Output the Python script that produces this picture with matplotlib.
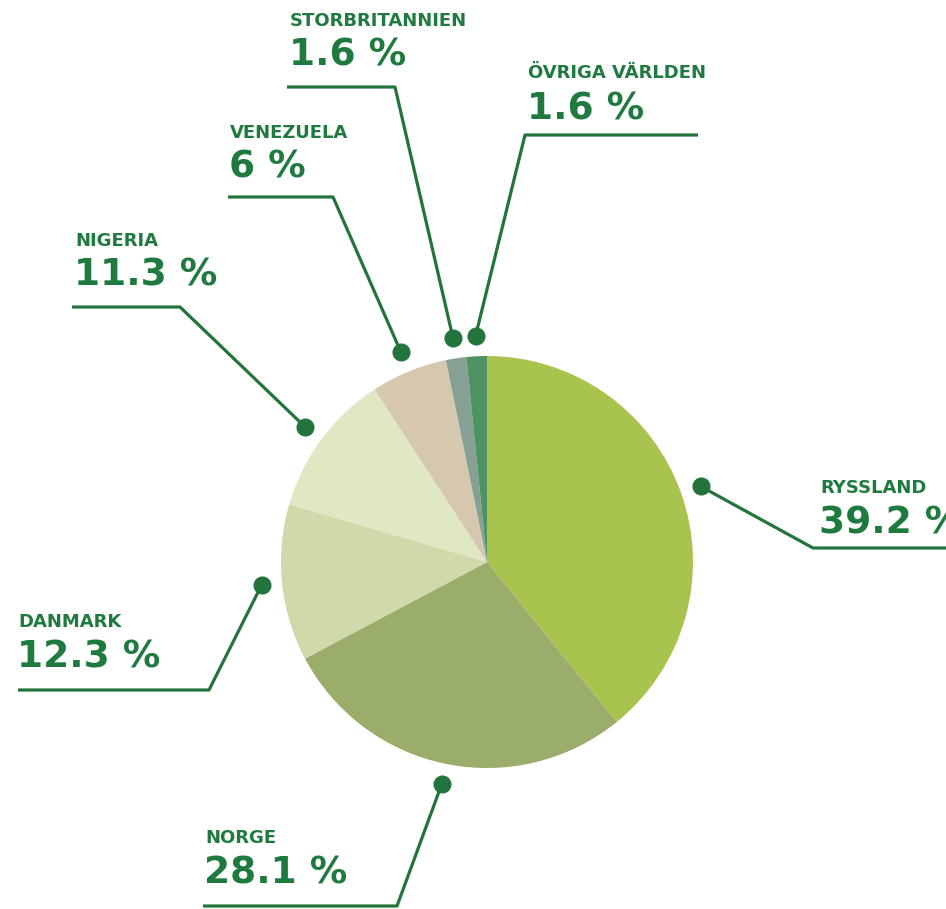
import numpy as np
import matplotlib
matplotlib.use("Agg")
import matplotlib.pyplot as plt

countries = ["RYSSLAND", "NORGE", "DANMARK", "NIGERIA", "VENEZUELA",
             "STORBRITANNIEN", "ÖVRIGA VÄRLDEN"]
shares = [39.2, 28.1, 12.3, 11.3, 6, 1.6, 1.6]
pct_labels = ["39.2 %", "28.1 %", "12.3 %", "11.3 %", "6 %", "1.6 %", "1.6 %"]
colors = ["#a9c34f", "#9bad6b", "#cfd9a9", "#dfe8c3", "#d6c7af", "#86a093", "#4f9262"]

W, H = 946, 909
TXT = "#1f7a3f"
LINE = "#23743c"
FONT = "DejaVu Sans"

fig = plt.figure(figsize=(W / 100, H / 100), dpi=100)
ax = fig.add_axes([0, 0, 1, 1])

cx, cy, r = 487, H - 562, 206
wedges, _ = ax.pie(shares, colors=colors, startangle=90, counterclock=False,
                   center=(cx, cy), radius=r, frame=True,
                   wedgeprops=dict(linewidth=0))
ax.set_xlim(0, W)
ax.set_ylim(0, H)
ax.set_aspect("equal")
ax.axis("off")

# layout: (elbow x, elbow y, underline end x, text x, name y, pct y)  in pixel coords (y down)
layout = [
    (813, 548, 960, 820, 488, 523),
    (397, 906, 203, 205, 838, 873),
    (209, 690, 18, 18, 622, 658),
    (180, 307, 72, 75, 241, 276),
    (333, 197, 228, 230, 133, 168),
    (395, 87, 287, 290, 21, 55),
    (525, 135, 698, 528, 73, 110),
]

for w, name, pct, (ex, ey, hx, tx, ny, py) in zip(wedges, countries, pct_labels, layout):
    ang = np.deg2rad((w.theta1 + w.theta2) / 2)
    dx = cx + 1.1 * r * np.cos(ang)
    dy = cy + 1.1 * r * np.sin(ang)
    ax.plot([dx, ex, hx], [dy, H - ey, H - ey], color=LINE, lw=2.3,
            solid_capstyle="butt", zorder=3)
    ax.plot([dx], [dy], "o", color=LINE, ms=12, zorder=4)
    ax.text(tx, H - ny, name, color=TXT, fontsize=13, fontweight="bold",
            family=FONT, ha="left", va="center")
    ax.text(tx - 1, H - py, pct, color=TXT, fontsize=27, fontweight="bold",
            family=FONT, ha="left", va="center")

fig.savefig("out.png", dpi=100)
